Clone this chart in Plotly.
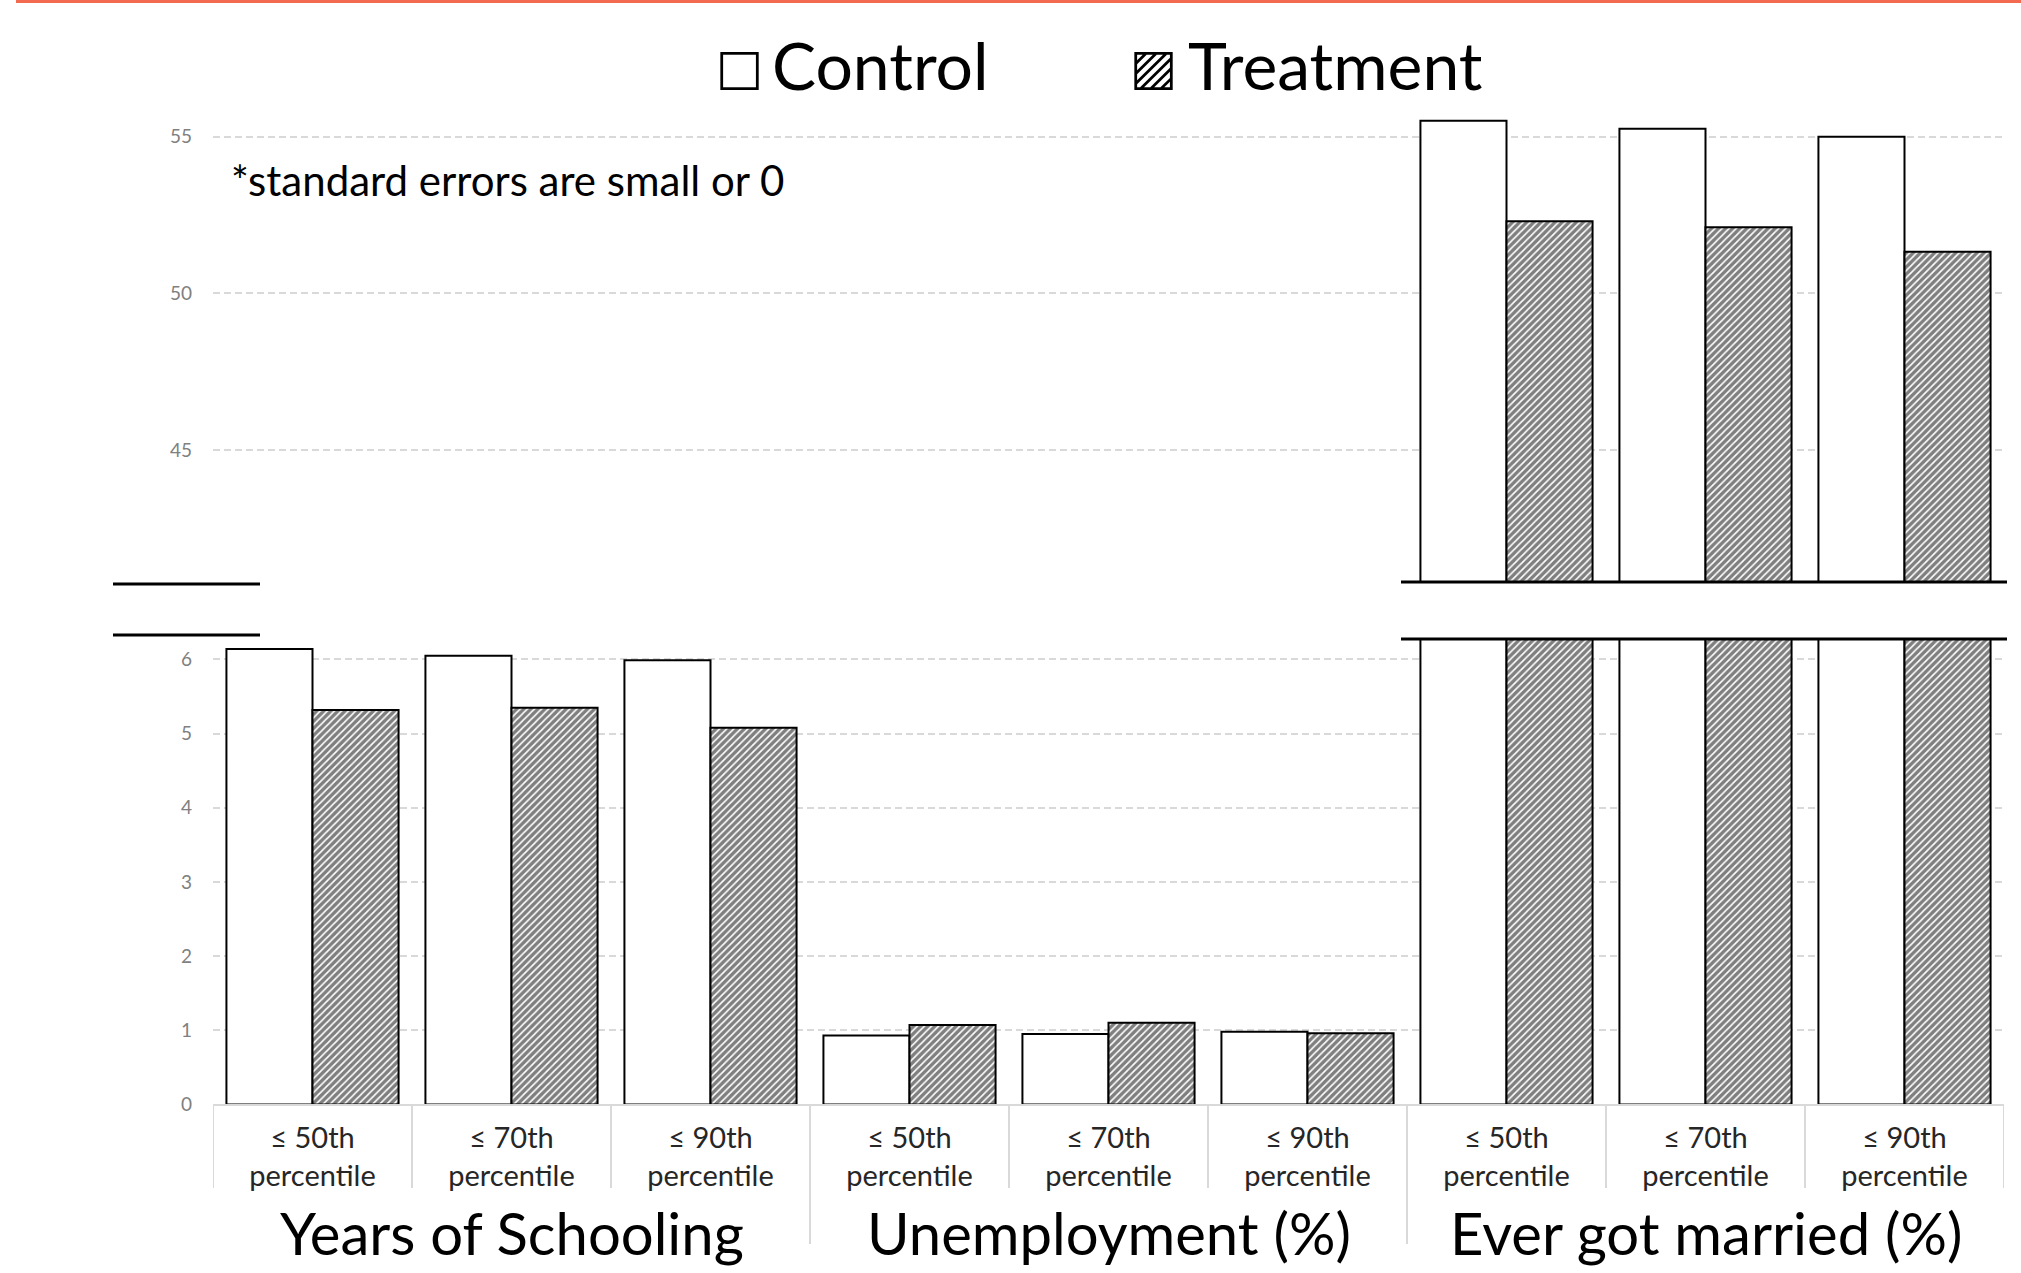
import plotly.graph_objects as go

# ---------------- data ----------------
groups = ["Years of Schooling", "Unemployment (%)", "Ever got married (%)"]
percentile_labels = ["≤ 50th<br>percentile", "≤ 70th<br>percentile", "≤ 90th<br>percentile"]
series_names = ["Control", "Treatment"]
control = [6.14, 6.05, 5.99, 0.93, 0.95, 0.98, 55.51, 55.25, 55.00]
treatment = [5.32, 5.35, 5.08, 1.07, 1.10, 0.96, 52.30, 52.11, 51.33]
lower_ticks = [0, 1, 2, 3, 4, 5, 6]
upper_ticks = [45, 50, 55]
note_text = "*standard errors are small or 0"

# ---------------- geometry helpers ----------------
W, H = 2021, 1273
VK = 0.9914  # vertical calibration of the rendered page


def px(x):
    return x / W


def py(y):
    return 1 - (y / VK) / H


cats = [f"{g} | {p.replace('<br>', ' ')}" for g in groups for p in percentile_labels]
ticktext = [p for g in groups for p in percentile_labels]

x_dom = [px(213), px(2004)]
lower_dom = [py(1104.5), py(638)]
upper_dom = [py(582), py(114.7)]

ctrl_marker = dict(color="white", line=dict(color="black", width=2))
trt_marker = dict(
    color="white",
    line=dict(color="black", width=2),
    pattern=dict(shape="/", fgcolor="black", bgcolor="white", size=5, solidity=0.68),
)

fig = go.Figure()
for xa, ya in [("x", "y"), ("x2", "y2")]:
    fig.add_trace(go.Bar(x=cats, y=control, name=series_names[0], marker=ctrl_marker,
                         xaxis=xa, yaxis=ya, showlegend=False))
    fig.add_trace(go.Bar(x=cats, y=treatment, name=series_names[1], marker=trt_marker,
                         xaxis=xa, yaxis=ya, showlegend=False))

grid = dict(showgrid=True, gridcolor="#d9d9d9", gridwidth=1.5, griddash="7px,4px", zeroline=False)

fig.update_layout(
    width=W, height=H,
    margin=dict(l=0, r=0, t=0, b=0),
    paper_bgcolor="white", plot_bgcolor="white",
    font=dict(family="Lato, 'DejaVu Sans', sans-serif", color="black"),
    barmode="group", bargap=0.135, bargroupgap=0,
    showlegend=False,
    xaxis=dict(domain=x_dom, anchor="y", type="category", categoryorder="array", categoryarray=cats,
               tickvals=cats, ticktext=ticktext, tickfont=dict(size=29, color="#262626"),
               ticks="", ticklabelstandoff=7, showgrid=False, showline=True,
               linecolor="#d9d9d9", linewidth=2, range=[-0.5, len(cats) - 0.5]),
    xaxis2=dict(domain=x_dom, anchor="y2", matches="x", type="category", showticklabels=False,
                showgrid=False, showline=False, ticks=""),
    yaxis=dict(domain=lower_dom, anchor="x", range=[0, 6.29], tickvals=lower_ticks,
               tickfont=dict(size=19, color="#808080"), ticks="", ticklabelstandoff=20,
               showline=False, **grid),
    yaxis2=dict(domain=upper_dom, anchor="x2", range=[40.79, 55.7], tickvals=upper_ticks,
                tickfont=dict(size=19, color="#808080"), ticks="", ticklabelstandoff=20,
                showline=False, **grid),
)

shapes = []
# top orange rule
shapes.append(dict(type="rect", xref="paper", yref="paper", x0=px(16), x1=1, y0=py(3), y1=1,
                   fillcolor="#f26a4f", line=dict(width=0), layer="above"))
# axis-break marks
for (x0, x1, y) in [(113, 260, 584), (113, 260, 635), (1401, 2007, 582), (1401, 2007, 639)]:
    shapes.append(dict(type="line", xref="paper", yref="paper", x0=px(x0), x1=px(x1), y0=py(y), y1=py(y),
                       line=dict(color="black", width=3), layer="above"))
# category separators below the axis
n = len(cats)
for b in range(n + 1):
    pos = b - 0.5
    is_group = b in (3, 6)
    bottom = 1244 if is_group else 1188
    shapes.append(dict(type="line", xref="x", yref="paper", x0=pos, x1=pos, y0=py(1104.5), y1=py(bottom),
                       line=dict(color="#d9d9d9", width=2)))
fig.update_layout(shapes=shapes)

ann = []
# group labels
for gi, g in enumerate(groups):
    ann.append(dict(x=cats[gi * 3 + 1], xref="x", y=py(1233), yref="paper", text=g, showarrow=False,
                    xanchor="center", yanchor="middle", font=dict(size=58, color="black")))
# note
ann.append(dict(x=px(229), xref="paper", y=py(180), yref="paper", text=note_text, showarrow=False,
                xanchor="left", yanchor="middle", font=dict(size=42, color="black")))
# legend (glyph + label)
glyphs = ["□", "▨"]
glyph_x = [714, 1128]
label_x = [770, 1186]
for i, name in enumerate(series_names):
    ann.append(dict(x=px(glyph_x[i]), xref="paper", y=py(67), yref="paper", text=glyphs[i], showarrow=False,
                    xanchor="left", yanchor="middle", font=dict(size=50, color="black", family="DejaVu Sans")))
    ann.append(dict(x=px(label_x[i]), xref="paper", y=py(65), yref="paper", text=name, showarrow=False,
                    xanchor="left", yanchor="middle", font=dict(size=66, color="black")))
fig.update_layout(annotations=ann)

fig.write_html(
    "out.html",
    config={"displayModeBar": False},
    post_script="document.body.style.margin='0px';document.body.style.overflow='hidden';",
)
